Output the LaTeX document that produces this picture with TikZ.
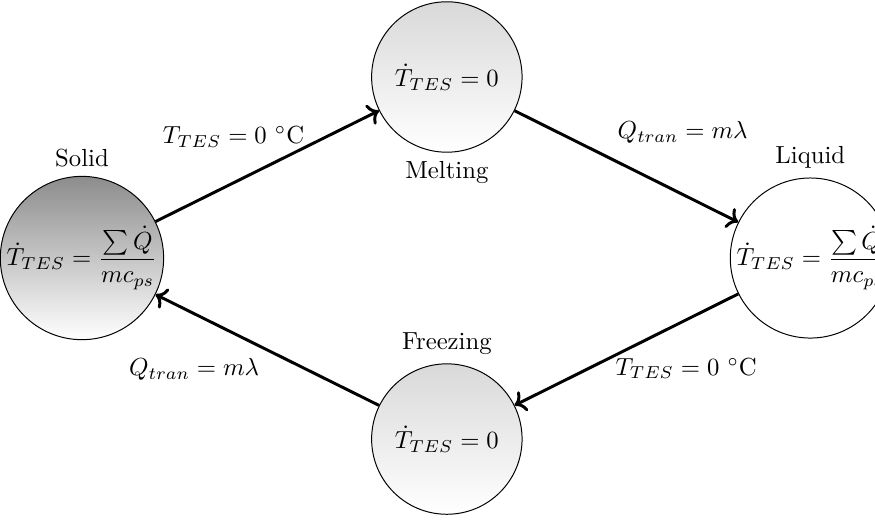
\documentclass[tikz,border=0pt]{standalone}
\usepackage{amsmath}
\usetikzlibrary{arrows.meta,positioning,calc}

\begin{document}
\begin{tikzpicture}[
  every node/.style={font=\normalsize},
  phase/.style={draw,circle,inner sep=0pt,minimum size=2.14cm,thin},
  trans/.style={->,very thick},
]
  \useasboundingbox (-1.166,-3.74) rectangle (11.28,3.67);
  % Solid
  \node[phase,top color=black!45,bottom color=white,label={above:Solid}] (solid) at (0,0)
    {$\dot{T}_{TES}=\dfrac{\sum\dot{Q}}{mc_{ps}}$};
  % Melting
  \node[phase,top color=black!15,bottom color=white,label={below:Melting}] (melting) at (5.19,2.575)
    {$\dot{T}_{TES}=0$};
  % Liquid
  \node[phase,fill=white,label={above:Liquid}] (liquid) at (10.36,0)
    {$\dot{T}_{TES}=\dfrac{\sum\dot{Q}}{mc_{pl}}$};
  % Freezing
  \node[phase,top color=black!15,bottom color=white,label={above:Freezing}] (freezing) at (5.19,-2.575)
    {$\dot{T}_{TES}=0$};

  % transitions
  \draw[trans] (solid) -- node[midway,shift={(-0.48,0.41)}] {$T_{TES}=0\ ^{\circ}\mathrm{C}$} (melting);
  \draw[trans] (melting) -- node[midway,shift={(0.80,0.48)}] {$Q_{tran}=m\lambda$} (liquid);
  \draw[trans] (liquid) -- node[midway,shift={(0.85,-0.27)}] {$T_{TES}=0\ ^{\circ}\mathrm{C}$} (freezing);
  \draw[trans] (freezing) -- node[midway,shift={(-1.04,-0.28)}] {$Q_{tran}=m\lambda$} (solid);
\end{tikzpicture}
\end{document}
